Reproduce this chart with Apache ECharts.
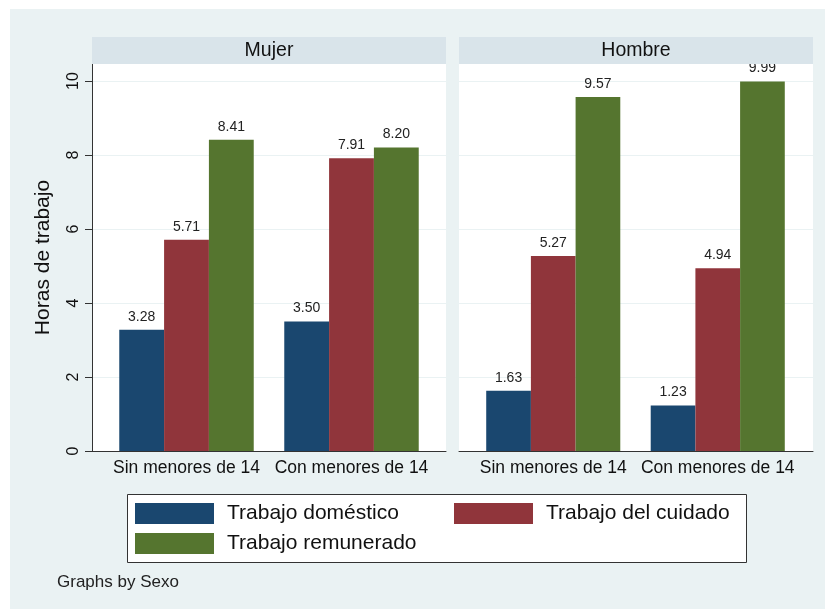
<!DOCTYPE html>
<html>
<head>
<meta charset="utf-8">
<script src="https://cdn.jsdelivr.net/npm/echarts@6/dist/echarts.min.js"></script>
<style>
  html, body { margin: 0; padding: 0; background: #fff; }
  #chart { width: 825px; height: 609px; }
</style>
</head>
<body>
<div id="chart"></div>
<script>
  // datos
  var categorias = ['Sin menores de 14', 'Con menores de 14'];
  var paneles = ['Mujer', 'Hombre'];
  var series = ['Trabajo doméstico', 'Trabajo del cuidado', 'Trabajo remunerado'];
  var domesticoMujer = [3.28, 3.50];
  var cuidadoMujer = [5.71, 7.91];
  var remuneradoMujer = [8.41, 8.20];
  var domesticoHombre = [1.63, 1.23];
  var cuidadoHombre = [5.27, 4.94];
  var remuneradoHombre = [9.57, 9.99];
  var yTicks = [0, 2, 4, 6, 8, 10];

  var colores = ['#1a476f', '#90353b', '#55752f'];
  var fuente = '"Liberation Sans", Arial, sans-serif';
  var yMax = 10.46;

  var myChart = echarts.init(document.getElementById('chart'));

  function barra(nombre, datos, idx, eje) {
    return {
      name: nombre,
      type: 'bar',
      xAxisIndex: eje,
      yAxisIndex: eje,
      data: datos,
      barGap: '0%',
      barCategoryGap: '18.5%',
      itemStyle: { color: colores[idx] },
      label: {
        show: true,
        position: 'top',
        distance: 6,
        fontFamily: fuente,
        fontSize: 14,
        color: '#222',
        formatter: function (p) { return p.value.toFixed(2); }
      }
    };
  }

  var ejeMarco = {
    type: 'value', min: 0, max: 1,
    axisLine: { show: true, onZero: false, lineStyle: { color: '#333', width: 1 } },
    axisTick: { show: false }, axisLabel: { show: false }, splitLine: { show: false }
  };
  var ejeBarras = function (g) {
    return {
      type: 'category', gridIndex: g, data: categorias,
      axisLine: { show: false }, axisTick: { show: false },
      axisLabel: { interval: 0, fontFamily: fuente, fontSize: 17.5, color: '#111', margin: 8 }
    };
  };
  var yOculto = function (g) {
    return { type: 'value', gridIndex: g, min: 0, max: yMax, show: false };
  };

  myChart.setOption({
    backgroundColor: '#fff',
    animation: false,
    graphic: [
      { type: 'rect', z: -1, shape: { x: 10, y: 9, width: 815, height: 600 }, style: { fill: '#eaf2f3' } },
      { type: 'rect', z: 100, shape: { x: 92, y: 37, width: 354, height: 27 }, style: { fill: '#d9e4ea' } },
      { type: 'rect', z: 100, shape: { x: 459, y: 37, width: 354, height: 27 }, style: { fill: '#d9e4ea' } },
      { type: 'text', z: 101, x: 269, y: 51, style: { text: paneles[0], fontFamily: fuente, fontSize: 19.5, fill: '#111', align: 'center', verticalAlign: 'middle' } },
      { type: 'text', z: 101, x: 636, y: 51, style: { text: paneles[1], fontFamily: fuente, fontSize: 19.5, fill: '#111', align: 'center', verticalAlign: 'middle' } },
      { type: 'rect', z: 3, shape: { x: 127.5, y: 494.5, width: 619, height: 68 }, style: { fill: '#fff', stroke: '#333', lineWidth: 1 } },
      { type: 'text', z: 5, x: 57, y: 582, style: { text: 'Graphs by Sexo', fontFamily: fuente, fontSize: 17, fill: '#222', verticalAlign: 'middle' } }
    ],
    legend: {
      data: series,
      left: 135, top: 503, width: 640,
      orient: 'horizontal',
      icon: 'rect',
      itemWidth: 79, itemHeight: 21, itemGap: 9,
      padding: 0,
      selectedMode: false,
      textStyle: { fontFamily: fuente, fontSize: 21, lineHeight: 21, color: '#111', width: 218, padding: [0, 0, 0, 8] }
    },
    grid: [
      { left: 92, top: 64, width: 354, height: 387, show: true, backgroundColor: '#fff', borderWidth: 0 },
      { left: 104, top: 64, width: 330, height: 387 },
      { left: 459, top: 64, width: 354, height: 387, show: true, backgroundColor: '#fff', borderWidth: 0 },
      { left: 471, top: 64, width: 329, height: 387 }
    ],
    xAxis: [
      Object.assign({ gridIndex: 0 }, ejeMarco),
      ejeBarras(1),
      Object.assign({ gridIndex: 2 }, ejeMarco),
      ejeBarras(3)
    ],
    yAxis: [
      {
        type: 'value', gridIndex: 0, min: 0, max: yMax,
        name: 'Horas de trabajo', nameLocation: 'middle', nameRotate: 90, nameGap: 38,
        nameTextStyle: { fontFamily: fuente, fontSize: 21, color: '#111' },
        axisLine: { show: true, lineStyle: { color: '#333', width: 1 } },
        axisTick: { show: true, length: 7, customValues: yTicks, lineStyle: { color: '#333' } },
        axisLabel: { rotate: 90, margin: 10, customValues: yTicks, fontFamily: fuente, fontSize: 16, color: '#111' },
        splitLine: { show: true, lineStyle: { color: '#eaf2f3', width: 1 } }
      },
      yOculto(1),
      {
        type: 'value', gridIndex: 2, min: 0, max: yMax,
        axisLine: { show: false }, axisTick: { show: false, customValues: yTicks },
        axisLabel: { show: false, customValues: yTicks },
        splitLine: { show: true, lineStyle: { color: '#eaf2f3', width: 1 } }
      },
      yOculto(3)
    ],
    series: [
      barra(series[0], domesticoMujer, 0, 1),
      barra(series[1], cuidadoMujer, 1, 1),
      barra(series[2], remuneradoMujer, 2, 1),
      barra(series[0], domesticoHombre, 0, 3),
      barra(series[1], cuidadoHombre, 1, 3),
      barra(series[2], remuneradoHombre, 2, 3)
    ]
  });
</script>
</body>
</html>
